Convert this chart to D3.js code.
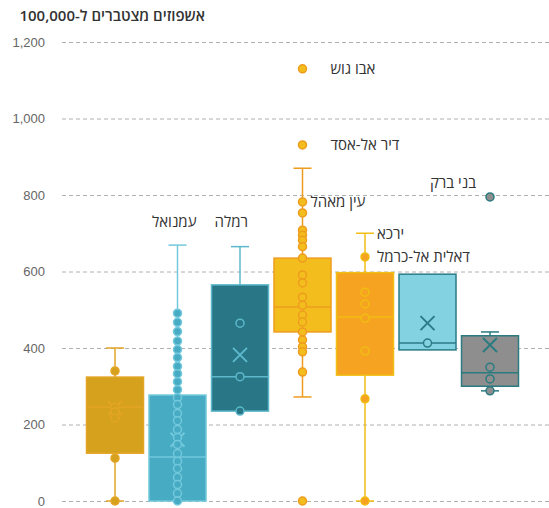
<!DOCTYPE html>
<html>
<head>
<meta charset="utf-8">
<script src="https://cdn.jsdelivr.net/npm/d3@7"></script>
<style>
  body { margin: 0; background: #fff; }
  svg { font-family: "Open Sans", "Noto Sans", "DejaVu Sans", sans-serif; }
</style>
</head>
<body>
<div id="chart"></div>
<script>
// box statistics, one entry per group (left to right)
var groups = ["g1", "g2", "g3", "g4", "g5", "g6", "g7"];
var q1 = [125, 0, 235, 442, 329, 395, 300];
var medians = [246, 115, 325, 507, 481, 413, 335];
var q3 = [324, 277, 565, 635, 597, 593, 432];
var whiskerLow = [0, 0, 235, 272, 0, 395, 288];
var whiskerHigh = [400, 669, 665, 870, 700, 593, 442];
// mean marker is not visible for groups 4 and 5
var means = [243, 160, 382, null, null, 465, 408];

// individual localities per group
var points = [
  [340, 245, 233, 217, 112, 0],
  [491, 467, 443, 418, 396, 375, 352, 333, 312, 291, 270, 252, 229, 210, 187, 166, 148, 124, 104, 85, 62, 43, 20, 0],
  [465, 325, 235],
  [1130, 931, 782, 753, 708, 695, 682, 665, 635, 591, 570, 533, 512, 486, 468, 442, 421, 403, 390, 337, 0],
  [638, 546, 515, 478, 392, 267, 0],
  [413],
  [795, 350, 319, 288]
];

// labelled localities
var labelTexts = ["אבו גוש", "דיר אל-אסד", "עין מאהל", "ירכא", "דאלית אל-כרמל", "בני ברק", "עמנואל", "רמלה"];
var labelGroups = [3, 3, 3, 4, 4, 6, 1, 2];
var labelValues = [1130, 931, 782, 700, 638, 795, 669, 665];

var yTicks = [0, 200, 400, 600, 800, 1000, 1200];
var title = "אשפוזים מצטברים ל-100,000";

// styling
var fills   = ["#d6a11c", "#47acc3", "#287686", "#f3be1d", "#f5a320", "#82d2e2", "#8e8e8e"];
var strokes = ["#e3a526", "#72c8dc", "#5db8cb", "#ee9c1e", "#f2bd14", "#2a7b87", "#2b7b80"];
var labelLayout = [
  {dx: 28, dy: 0, anchor: "start"},
  {dx: 28, dy: 0, anchor: "start"},
  {dx: 8, dy: 0, anchor: "start"},
  {dx: 12, dy: 0, anchor: "start"},
  {dx: 12, dy: 0, anchor: "start"},
  {dx: -14, dy: -14, anchor: "end"},
  {dx: 19, dy: -23, anchor: "end"},
  {dx: 8, dy: -25, anchor: "end"}
];

var width = 549, height = 508;
var boxW = 57, capW = 18;

var svg = d3.select("#chart").append("svg")
  .attr("width", width)
  .attr("height", height);

var x = d3.scalePoint().domain(groups).range([115, 490]);
var y = d3.scaleLinear().domain([0, 1200]).range([501, 42]);

// grid + axis
var yAxis = d3.axisLeft(y)
  .tickValues(yTicks)
  .tickSize(-(width - 62))
  .tickFormat(d3.format(","));

var gAxis = svg.append("g")
  .attr("transform", "translate(62,0)")
  .call(yAxis);
gAxis.select(".domain").remove();
gAxis.selectAll(".tick line")
  .attr("stroke", "#b0b0b0")
  .attr("stroke-dasharray", "4,3");
gAxis.selectAll(".tick text")
  .attr("x", -17)
  .attr("fill", "#666")
  .style("font-size", "13px");

svg.append("text")
  .attr("x", 205)
  .attr("y", 21)
  .attr("direction", "rtl")
  .attr("text-anchor", "start")
  .attr("fill", "#333")
  .style("font-size", "15px")
  .style("font-weight", "600")
  .text(title);

var box = svg.selectAll(".box")
  .data(groups)
  .enter()
  .append("g")
  .attr("class", "box");

// whiskers
box.append("line")
  .attr("x1", function(d) { return x(d); })
  .attr("x2", function(d) { return x(d); })
  .attr("y1", function(d, i) { return y(whiskerLow[i]); })
  .attr("y2", function(d, i) { return y(whiskerHigh[i]); })
  .attr("stroke", function(d, i) { return strokes[i]; })
  .attr("stroke-width", 1.5);

box.each(function(d, i) {
  var g = d3.select(this);
  [whiskerLow[i], whiskerHigh[i]].forEach(function(v) {
    if (v === q1[i] || v === q3[i]) return;
    g.append("line")
      .attr("x1", x(d) - capW / 2)
      .attr("x2", x(d) + capW / 2)
      .attr("y1", y(v))
      .attr("y2", y(v))
      .attr("stroke", strokes[i])
      .attr("stroke-width", 1.5);
  });
});

// box body
box.append("rect")
  .attr("x", function(d) { return x(d) - boxW / 2; })
  .attr("width", boxW)
  .attr("y", function(d, i) { return y(q3[i]); })
  .attr("height", function(d, i) { return y(q1[i]) - y(q3[i]); })
  .attr("fill", function(d, i) { return fills[i]; })
  .attr("stroke", function(d, i) { return strokes[i]; })
  .attr("stroke-width", 1.5);

// median
box.append("line")
  .attr("x1", function(d) { return x(d) - boxW / 2; })
  .attr("x2", function(d) { return x(d) + boxW / 2; })
  .attr("y1", function(d, i) { return y(medians[i]); })
  .attr("y2", function(d, i) { return y(medians[i]); })
  .attr("stroke", function(d, i) { return strokes[i]; })
  .attr("stroke-width", 1.5);

// mean marker (X)
box.filter(function(d, i) { return means[i] != null; })
  .append("path")
  .attr("d", function(d) {
    var i = groups.indexOf(d);
    var cx = x(d), cy = y(means[i]), s = 7;
    return "M" + (cx - s) + "," + (cy - s) + "L" + (cx + s) + "," + (cy + s) +
           "M" + (cx - s) + "," + (cy + s) + "L" + (cx + s) + "," + (cy - s);
  })
  .attr("stroke", function(d) { return strokes[groups.indexOf(d)]; })
  .attr("stroke-width", 2)
  .attr("fill", "none");

// points
box.each(function(d, i) {
  d3.select(this).selectAll("circle")
    .data(points[i])
    .enter()
    .append("circle")
    .attr("cx", x(d))
    .attr("cy", function(v) { return y(v); })
    .attr("r", 4)
    .attr("fill", fills[i])
    .attr("stroke", strokes[i])
    .attr("stroke-width", 1.5);
});

// locality labels
svg.append("g")
  .selectAll("text")
  .data(labelTexts)
  .enter()
  .append("text")
  .attr("x", function(d, i) { return x(groups[labelGroups[i]]) + labelLayout[i].dx; })
  .attr("y", function(d, i) { return y(labelValues[i]) + labelLayout[i].dy; })
  .attr("dy", "0.35em")
  .attr("text-anchor", function(d, i) { return labelLayout[i].anchor; })
  .attr("fill", "#333")
  .style("font-size", "15px")
  .style("font-weight", "500")
  .text(function(d) { return d; });
</script>
</body>
</html>
